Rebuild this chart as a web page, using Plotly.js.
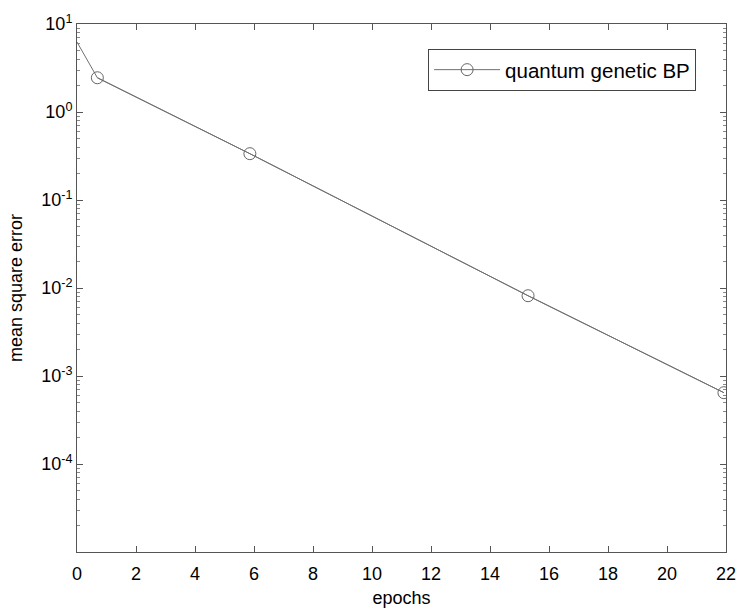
<!DOCTYPE html>
<html>
<head>
<meta charset="utf-8">
<script src="https://cdn.plot.ly/plotly-3.0.1.min.js"></script>
<style>body{margin:0;background:#fff;}#chart{width:740px;height:613px;}</style>
</head>
<body>
<div id="chart"></div>
<script>
// data
const lineX = [0, 0.69, 5.86, 15.29, 21.93];
const lineY = [6.24, 2.45, 0.336, 0.00817, 0.000646];
const markX = [0.69, 5.86, 15.29, 21.93];
const markY = [2.45, 0.336, 0.00817, 0.000646];
const seriesName = 'quantum genetic BP';
const xTicks = [0, 2, 4, 6, 8, 10, 12, 14, 16, 18, 20, 22];
const yTickVals = [1e-4, 1e-3, 1e-2, 1e-1, 1, 10];
const yTickText = ['10<sup>-4</sup>', '10<sup>-3</sup>', '10<sup>-2</sup>', '10<sup>-1</sup>', '10<sup>0</sup>', '10<sup>1</sup>'];

const minorVals = [];
for (let e = -5; e < 1; e++) {
  for (let m = 2; m <= 9; m++) minorVals.push(m * Math.pow(10, e));
}

const font = {family: 'Liberation Sans, Arial, sans-serif', size: 18, color: '#000'};
const legFont = {family: 'Liberation Sans, Arial, sans-serif', size: 20.5, color: '#000'};
const axisColor = '#555';

const traces = [
  {x: lineX, y: lineY, mode: 'lines', line: {color: '#707070', width: 1}, showlegend: false, hoverinfo: 'skip'},
  {x: markX, y: markY, mode: 'lines+markers', name: seriesName,
   line: {color: '#707070', width: 1},
   marker: {symbol: 'circle-open', size: 12, color: '#666', line: {width: 1, color: '#666'}}}
];

const layout = {
  width: 740, height: 613,
  margin: {l: 77, r: 14, t: 24, b: 61},
  paper_bgcolor: '#fff', plot_bgcolor: '#fff',
  font: font,
  showlegend: true,
  legend: {x: 0.541, y: 0.953, xanchor: 'left', yanchor: 'top', bordercolor: '#444', borderwidth: 1, bgcolor: '#fff', font: legFont, itemwidth: 66},
  xaxis: {
    range: [0, 22], tickvals: xTicks, ticks: 'inside', ticklen: 6, tickcolor: axisColor,
    showline: true, linecolor: axisColor, linewidth: 1, mirror: 'ticks', showgrid: false, zeroline: false,
    ticklabelstandoff: 5,
    tickfont: font, title: {text: 'epochs', font: font, standoff: 8}
  },
  yaxis: {
    type: 'log', range: [-5, 1], tickvals: yTickVals, ticktext: yTickText,
    ticks: 'inside', ticklen: 6, tickcolor: axisColor,
    minor: {tickvals: minorVals, ticks: 'inside', ticklen: 3, tickcolor: '#888', showgrid: false},
    showline: true, linecolor: axisColor, linewidth: 1, mirror: 'ticks', showgrid: false, zeroline: false,
    tickfont: font, title: {text: 'mean square error', font: font, standoff: 13}
  }
};

Plotly.newPlot('chart', traces, layout, {displayModeBar: false, staticPlot: true});
</script>
</body>
</html>
